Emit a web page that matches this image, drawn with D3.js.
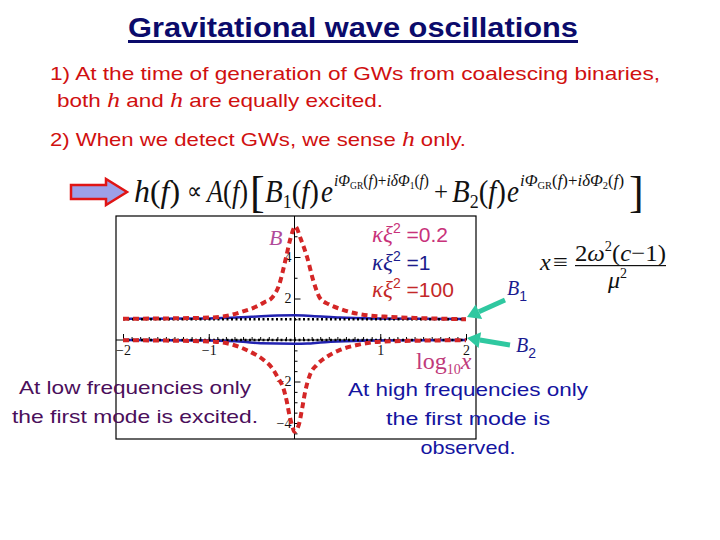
<!DOCTYPE html>
<html lang="en">
<head>
<meta charset="UTF-8">
<title>Gravitational wave oscillations</title>
<script src="https://d3js.org/d3.v7.min.js"></script>
<style>
    body { margin: 0; padding: 0; background: #fff; overflow: hidden; }
    svg { display: block; }
    .sans { font-family: "Liberation Sans", Arial, sans-serif; }
    .serif { font-family: "Liberation Serif", "Times New Roman", serif; }
</style>
</head>
<body>
<script>
    // data: [log10 x, value]
    const b1Red = [[-2, 1.02], [-1.5, 1.04], [-1.0, 1.08], [-0.75, 1.2], [-0.6, 1.38], [-0.45, 1.6],
        [-0.35, 1.82], [-0.26, 2.05], [-0.18, 2.65], [-0.1, 3.95], [-0.05, 4.85], [0.01, 5.47],
        [0.07, 4.9], [0.15, 3.95], [0.22, 2.85], [0.3, 2.0], [0.4, 1.72], [0.53, 1.5],
        [0.73, 1.27], [1.12, 1.11], [1.5, 1.05], [2.0, 1.0]];
    const b2Red = [[-2, -0.01], [-1.5, -0.03], [-0.94, -0.08], [-0.71, -0.24], [-0.52, -0.56],
        [-0.36, -0.96], [-0.26, -1.36], [-0.19, -1.84], [-0.13, -2.32], [-0.09, -2.96],
        [-0.06, -3.6], [-0.03, -4.09], [0, -4.42], [0.05, -4.09], [0.09, -3.28], [0.125, -2.48],
        [0.18, -1.68], [0.26, -1.2], [0.38, -0.8], [0.53, -0.48], [0.73, -0.24], [1.0, -0.08],
        [1.5, -0.03], [2.0, -0.01]];
    const b1Blue = [[-2, 1.02], [-1, 1.04], [-0.5, 1.12], [-0.2, 1.18], [0, 1.19], [0.2, 1.16],
        [0.53, 1.08], [0.92, 1.04], [2, 1.01]];
    const b2Blue = [[-2, 0], [-1, -0.02], [-0.6, -0.08], [-0.4, -0.16], [0, -0.18], [0.15, -0.17],
        [0.3, -0.12], [0.6, -0.06], [1, -0.02], [2, 0]];
    const b1Black = [[-2, 1], [2, 1]];
    const b2Black = [[-2, 0], [2, 0]];

    const legendValues = ["0.2", "1", "100"];
    const legendColors = ["#c8327a", "#1c1c8c", "#c42828"];

    const xTicks = [-2, -1, 1, 2];
    const yTicks = [-4, -2, 2, 4];
    const yMinorUp = [1, 3, 5];
    const yMinorDown = [-0.5, -1, -1.5, -2.5, -3, -3.5, -4.5];

    const width = 720, height = 540;
    const svg = d3.select("body").append("svg")
        .attr("width", width)
        .attr("height", height);

    // title
    svg.append("text").attr("class", "sans")
        .attr("x", 128).attr("y", 37)
        .attr("font-size", 28).attr("font-weight", "bold")
        .attr("fill", "#0b0b6b")
        .attr("textLength", 450).attr("lengthAdjust", "spacingAndGlyphs")
        .text("Gravitational wave oscillations");
    svg.append("rect").attr("x", 128).attr("y", 40).attr("width", 450).attr("height", 3).attr("fill", "#0b0b6b");

    // red statements
    const red = "#d01010";
    function line(y, x, len, parts) {
        const t = svg.append("text").attr("class", "sans")
            .attr("x", x).attr("y", y).attr("font-size", 19).attr("fill", red)
            .attr("textLength", len).attr("lengthAdjust", "spacingAndGlyphs");
        parts.forEach(p => {
            const s = t.append("tspan").text(p[0]);
            if (p[1]) s.attr("font-family", "Liberation Serif").attr("font-style", "italic").attr("font-size", 22);
        });
    }
    line(80, 50, 610, [["1) At the time of generation of GWs from coalescing binaries,"]]);
    line(107, 57, 326, [["both "], ["h", 1], [" and "], ["h", 1], [" are equally excited."]]);
    line(146, 50, 416, [["2) When we detect GWs, we sense "], ["h", 1], [" only."]]);

    // big arrow at left
    svg.append("path")
        .attr("d", "M71,185 L106,185 L106,179 L127,192 L106,205 L106,199 L71,199 Z")
        .attr("fill", "#9da0e8").attr("stroke", "#e01515").attr("stroke-width", 2.5)
        .attr("stroke-linejoin", "miter");

    // formula h(f) ...
    const f = svg.append("g").attr("class", "serif").attr("fill", "#111");
    function piece(x, y, size, parts, len) {
        const t = f.append("text").attr("x", x).attr("y", y).attr("font-size", size);
        if (len) t.attr("textLength", len).attr("lengthAdjust", "spacingAndGlyphs");
        parts.forEach(p => {
            const s = t.append("tspan").text(p[0]);
            if (p[1] === "i") s.attr("font-style", "italic");
            if (p[1] === "sub") s.attr("font-size", size * 0.62).attr("dy", size * 0.18);
            if (p[1] === "up") s.attr("dy", -size * 0.18);
        });
        return t;
    }
    piece(134, 202, 31, [["h", "i"], ["("], ["f", "i"], [")"]], 46);
    piece(187, 199, 24, [["\u221D"]], 15);
    piece(207, 202, 31, [["A", "i"], ["("], ["f", "i"], [")"]], 41);
    f.append("text").attr("x", 250).attr("y", 207).attr("font-size", 44).text("[");
    piece(265, 202, 31, [["B", "i"], ["1", "sub"], ["(", "up"], ["f", "i"], [")"]], 54);
    piece(321, 202, 31, [["e", "i"]], 12);
    piece(334, 186, 17, [["i\u03A6", "i"], ["GR", "sub"], ["(", "up"], ["f", "i"], [")+"], ["i\u03B4\u03A6", "i"], ["1", "sub"], ["(", "up"], ["f", "i"], [")"]], 95);
    piece(434, 201, 28, [["+"]], 14);
    piece(452, 202, 31, [["B", "i"], ["2", "sub"], ["(", "up"], ["f", "i"], [")"]], 54);
    piece(507, 202, 31, [["e", "i"]], 12);
    piece(520, 186, 17, [["i\u03A6", "i"], ["GR", "sub"], ["(", "up"], ["f", "i"], [")+"], ["i\u03B4\u03A6", "i"], ["2", "sub"], ["(", "up"], ["f", "i"], [")"]], 104);
    f.append("text").attr("x", 629).attr("y", 207).attr("font-size", 44).text("]");

    // formula x = 2w^2(c-1)/mu^2
    piece(540, 270, 24, [["x", "i"]]);
    piece(553, 270, 24, [["\u2261"]], 15);
    const num = f.append("text").attr("x", 575).attr("y", 261).attr("font-size", 24);
    num.append("tspan").text("2");
    num.append("tspan").attr("font-style", "italic").text("\u03C9");
    num.append("tspan").attr("font-size", 14).attr("dy", -10).text("2");
    num.append("tspan").attr("dy", 10).text("(");
    num.append("tspan").attr("font-style", "italic").text("c");
    num.append("tspan").text("\u2212");
    num.append("tspan").text("1)");
    num.attr("textLength", 91).attr("lengthAdjust", "spacingAndGlyphs");
    f.append("rect").attr("x", 575).attr("y", 265).attr("width", 91).attr("height", 1.2);
    const den = f.append("text").attr("x", 608).attr("y", 288).attr("font-size", 24);
    den.append("tspan").attr("font-style", "italic").text("\u03BC");
    den.append("tspan").attr("font-size", 14).attr("dy", -10).text("2");

    // plot box and scales
    const x = d3.scaleLinear().domain([-2, 2]).range([123, 466]);
    const y = d3.scaleLinear().domain([-4, 4]).range([423, 257]);

    svg.append("rect").attr("x", 116).attr("y", 216).attr("width", 360).attr("height", 223)
        .attr("fill", "none").attr("stroke", "#000").attr("stroke-width", 1.2);

    const plot = svg.append("g");

    // axes
    plot.append("line").attr("x1", 116).attr("x2", 467).attr("y1", y(0)).attr("y2", y(0)).attr("stroke", "#000");
    plot.append("line").attr("x1", x(0)).attr("x2", x(0)).attr("y1", 216).attr("y2", 439).attr("stroke", "#000");

    const minus = d => (d < 0 ? "\u2212" + (-d) : "" + d);
    plot.append("g").attr("transform", `translate(0,${y(0)})`)
        .call(d3.axisBottom(x).tickValues(xTicks).tickSizeInner(-6).tickSizeOuter(0).tickPadding(5).tickFormat(minus));
    plot.append("g").attr("transform", `translate(0,${y(0)})`)
        .call(d3.axisBottom(x).tickValues(d3.range(-20, 21).map(d => d / 10)).tickSizeInner(-3).tickSizeOuter(0).tickFormat(""));
    plot.append("g").attr("transform", `translate(${x(0)},0)`)
        .call(d3.axisLeft(y).tickValues(yTicks).tickSizeInner(-6).tickSizeOuter(0).tickPadding(3).tickFormat(minus));
    plot.append("g").attr("transform", `translate(${x(0)},0)`)
        .call(d3.axisLeft(y).tickValues(yMinorUp.concat(yMinorDown)).tickSizeInner(-3).tickSizeOuter(0).tickFormat(""));
    plot.selectAll(".domain").remove();
    plot.selectAll(".tick text").attr("font-family", "Liberation Serif").attr("font-size", 14).attr("fill", "#111");

    // curves
    const lineGen = d3.line().x(d => x(d[0])).y(d => y(d[1])).curve(d3.curveMonotoneX);
    [b1Blue, b2Blue].forEach(s => plot.append("path").attr("d", lineGen(s))
        .attr("fill", "none").attr("stroke", "#2222b0").attr("stroke-width", 2.5));
    [b1Black, b2Black].forEach(s => plot.append("path").attr("d", lineGen(s))
        .attr("fill", "none").attr("stroke", "#000").attr("stroke-width", 2.5).attr("stroke-dasharray", "2,2.5"));
    [b1Red, b2Red].forEach(s => plot.append("path").attr("d", lineGen(s))
        .attr("fill", "none").attr("stroke", "#d42626").attr("stroke-width", 4).attr("stroke-dasharray", "6,4"));

    // B label at peak
    svg.append("text").attr("class", "serif").attr("x", 269).attr("y", 245)
        .attr("font-size", 22).attr("font-style", "italic").attr("fill", "#b04a9a").text("B");

    // legend
    legendValues.forEach((v, i) => {
        const t = svg.append("text").attr("x", 372).attr("y", 242 + i * 27.5).attr("fill", legendColors[i]);
        t.append("tspan").attr("class", "serif").attr("font-style", "italic").attr("font-size", 23).text("\u03BA\u03BE");
        t.append("tspan").attr("class", "sans").attr("font-size", 14).attr("dy", -9).text("2");
        t.append("tspan").attr("class", "sans").attr("font-size", 21).attr("dy", 9).text(" =" + v);
    });

    // log10 x label
    const lg = svg.append("text").attr("class", "serif").attr("x", 416).attr("y", 369)
        .attr("font-size", 24).attr("fill", "#c03a7a");
    lg.append("tspan").text("log");
    lg.append("tspan").attr("font-size", 14).attr("dy", 5).text("10");
    lg.append("tspan").attr("dy", -5).attr("font-style", "italic").text("x");

    // green arrows and B1/B2 labels
    const green = "#2fc8a0";
    [[505, 300, 467, 317], [510, 345, 467, 338]].forEach(a => {
        const ang = Math.atan2(a[3] - a[1], a[2] - a[0]);
        const hx = a[2] - 13 * Math.cos(ang), hy = a[3] - 13 * Math.sin(ang);
        svg.append("line").attr("x1", a[0]).attr("y1", a[1]).attr("x2", hx).attr("y2", hy)
            .attr("stroke", green).attr("stroke-width", 5);
        const px = -Math.sin(ang) * 8, py = Math.cos(ang) * 8;
        svg.append("path")
            .attr("d", `M${a[2]},${a[3]} L${hx + px},${hy + py} L${hx - px},${hy - py} Z`)
            .attr("fill", green);
    });
    [["1", 507, 295], ["2", 516, 352]].forEach(b => {
        const t = svg.append("text").attr("x", b[1]).attr("y", b[2]).attr("fill", "#1a1a90");
        t.append("tspan").attr("class", "serif").attr("font-style", "italic").attr("font-size", 20).text("B");
        t.append("tspan").attr("class", "sans").attr("font-size", 14).attr("dy", 6).text(b[0]);
    });

    // bottom notes
    function note(lines, cx, y0, color) {
        lines.forEach((l, i) => {
            svg.append("text").attr("class", "sans").attr("x", cx).attr("y", y0 + i * 29)
                .attr("text-anchor", "middle").attr("font-size", 19).attr("fill", color)
                .attr("textLength", l[1]).attr("lengthAdjust", "spacingAndGlyphs").text(l[0]);
        });
    }
    note([["At low frequencies only", 232], ["the first mode is excited.", 246]], 135, 394, "#4b0f5b");
    note([["At high frequencies only", 240], ["the first mode is", 164], ["observed.", 95]], 468, 396, "#1414a0");
</script>
</body>
</html>
